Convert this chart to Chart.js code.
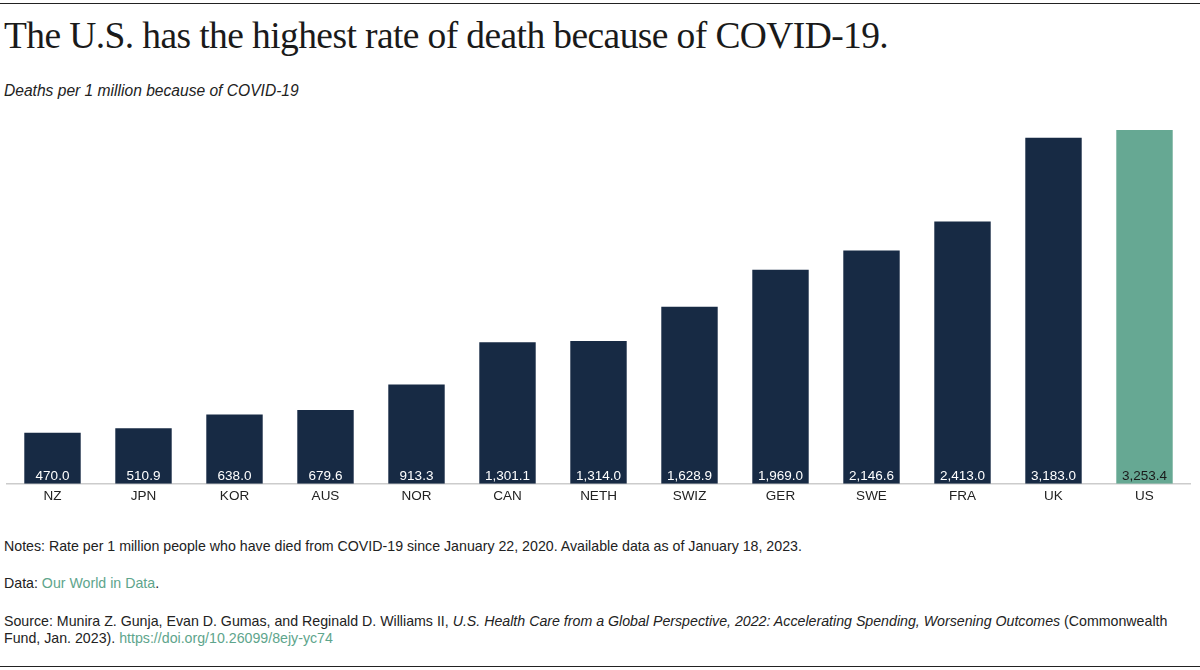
<!DOCTYPE html>
<html>
<head>
<meta charset="utf-8">
<script src="https://cdn.jsdelivr.net/npm/chart.js@4"></script>
<style>
  html, body { margin: 0; padding: 0; background: #fff; }
  body { width: 1200px; height: 670px; position: relative; overflow: hidden; font-family: "Liberation Sans", Arial, sans-serif; color: #1a1a1a; }
  .rule { position: absolute; left: 0; width: 1200px; height: 1px; background: #222; }
  #title { position: absolute; left: 4px; top: 14px; font-family: "Liberation Serif", "DejaVu Serif", serif; font-size: 37.5px; letter-spacing: -0.6px; color: #1a1a1a; white-space: nowrap; }
  #subtitle { position: absolute; left: 4px; top: 82px; font-size: 15.6px; font-style: italic; color: #222; }
  #chart-box { position: absolute; left: 0; top: 108px; width: 1200px; height: 400px; }
  .note { position: absolute; left: 4px; font-size: 14.2px; color: #222; line-height: 17px; }
  .note a { color: #5ea58c; text-decoration: none; }
</style>
</head>
<body>
<div class="rule" style="top:3px"></div>
<div id="title">The U.S. has the highest rate of death because of COVID-19.</div>
<div id="subtitle">Deaths per 1 million because of COVID-19</div>
<div id="chart-box"><canvas id="bar-chart"></canvas></div>
<div class="note" style="top:538px">Notes: Rate per 1 million people who have died from COVID-19 since January 22, 2020. Available data as of January 18, 2023.</div>
<div class="note" style="top:575px">Data: <a>Our World in Data</a>.</div>
<div class="note" style="top:613px; width:1180px">Source: Munira Z. Gunja, Evan D. Gumas, and Reginald D. Williams II, <i>U.S. Health Care from a Global Perspective, 2022: Accelerating Spending, Worsening Outcomes</i> (Commonwealth Fund, Jan. 2023). <a>https://doi.org/10.26099/8ejy-yc74</a></div>
<div class="rule" style="top:666px"></div>
<script>
const countries = ['NZ', 'JPN', 'KOR', 'AUS', 'NOR', 'CAN', 'NETH', 'SWIZ', 'GER', 'SWE', 'FRA', 'UK', 'US'];
const deaths = [470.0, 510.9, 638.0, 679.6, 913.3, 1301.1, 1314.0, 1628.9, 1969.0, 2146.6, 2413.0, 3183.0, 3253.4];

const navy = '#172a44';
const green = '#66a893';
const barColors = countries.map(c => c === 'US' ? green : navy);

// value labels sit at the bottom of each bar
const valueLabels = {
    id: 'valueLabels',
    afterDatasetsDraw(chart) {
        const ctx = chart.ctx;
        const meta = chart.getDatasetMeta(0);
        ctx.save();
        ctx.font = '13.5px "Liberation Sans", Arial, sans-serif';
        ctx.textAlign = 'center';
        ctx.textBaseline = 'alphabetic';
        meta.data.forEach((bar, i) => {
            ctx.fillStyle = countries[i] === 'US' ? '#1a1a1a' : '#ffffff';
            const txt = deaths[i].toLocaleString('en-US', { minimumFractionDigits: 1, maximumFractionDigits: 1 });
            ctx.fillText(txt, bar.x, bar.base - 4);
        });
        ctx.restore();
    }
};

const ctx = document.getElementById('bar-chart').getContext('2d');
new Chart(ctx, {
    type: 'bar',
    data: {
        labels: countries,
        datasets: [{
            data: deaths,
            backgroundColor: barColors,
            barPercentage: 0.62,
            categoryPercentage: 1.0
        }]
    },
    options: {
        responsive: true,
        maintainAspectRatio: false,
        animation: false,
        layout: { padding: { left: 7, right: 10, top: 17, bottom: 0 } },
        plugins: { legend: { display: false }, tooltip: { enabled: false } },
        scales: {
            x: {
                grid: { display: false, drawTicks: false },
                border: { display: true, color: '#cccccc', width: 1.5 },
                ticks: { color: '#222', font: { size: 13.5, family: '"Liberation Sans", Arial, sans-serif' }, padding: 4 }
            },
            y: {
                display: false,
                min: 0,
                max: 3300
            }
        }
    },
    plugins: [valueLabels]
});
</script>
</body>
</html>
